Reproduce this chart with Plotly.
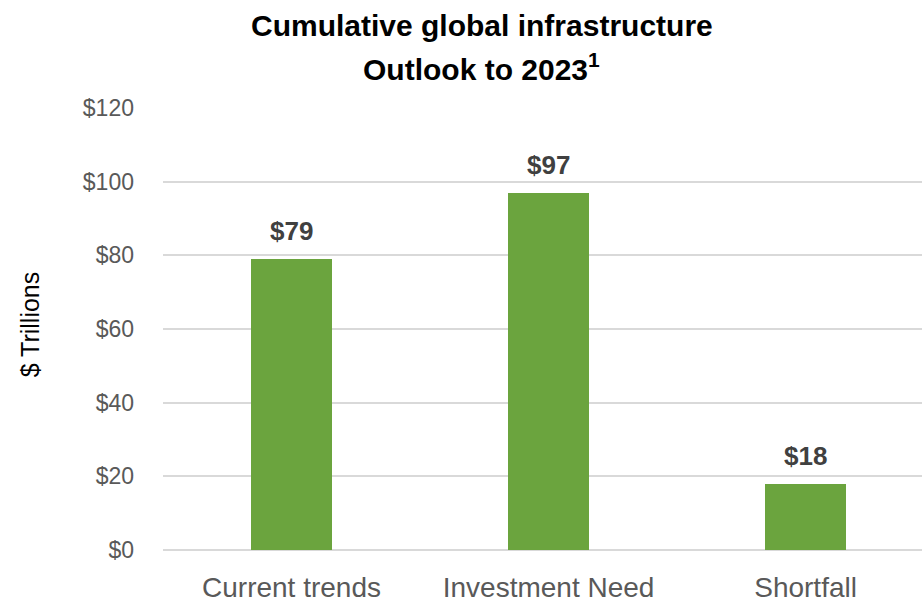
import plotly.graph_objects as go

# Cumulative global infrastructure outlook to 2023, $ trillions
categories = ["Current trends", "Investment Need", "Shortfall"]
values = [79, 97, 18]
value_labels = ["$79", "$97", "$18"]
y_ticks = [0, 20, 40, 60, 80, 100, 120]
y_tick_labels = ["$0", "$20", "$40", "$60", "$80", "$100", "$120"]
title_lines = ["Cumulative global infrastructure", "Outlook to 2023<sup>1</sup>"]
y_title = "$ Trillions"

SANS = "Liberation Sans, Arial, sans-serif"
x_pos = list(range(len(categories)))

fig = go.Figure(
    go.Bar(
        x=x_pos,
        y=values,
        width=0.315,
        marker=dict(color="#6ba43e", line=dict(width=0)),
        hoverinfo="skip",
    )
)

# value labels above each bar
for xi, v, lab in zip(x_pos, values, value_labels):
    fig.add_annotation(
        x=xi, y=v, xref="x", yref="y",
        text=lab, showarrow=False,
        xanchor="center", yanchor="bottom", yshift=11,
        font=dict(family=SANS, size=26, color="#404040", weight="bold"),
    )

# two-line chart title
for text, yp in zip(title_lines, [1.186, 1.092]):
    fig.add_annotation(
        x=0.42, y=yp, xref="paper", yref="paper",
        text=text, showarrow=False,
        xanchor="center", yanchor="middle",
        font=dict(family=SANS, size=30, color="black", weight="bold"),
    )

# vertical axis title
fig.add_annotation(
    x=-0.175, y=0.511, xref="paper", yref="paper",
    text=y_title, showarrow=False, textangle=-90,
    xanchor="center", yanchor="middle",
    font=dict(family=SANS, size=25, color="black"),
)

fig.update_layout(
    width=922,
    height=602,
    margin=dict(l=163, r=0, t=108, b=52),
    paper_bgcolor="white",
    plot_bgcolor="white",
    showlegend=False,
    xaxis=dict(
        tickmode="array",
        tickvals=x_pos,
        ticktext=categories,
        range=[-0.5, 2.453],
        showgrid=False,
        zeroline=False,
        showline=False,
        ticks="",
        automargin=False,
        ticklabelstandoff=18,
        tickfont=dict(family=SANS, size=28, color="#595959"),
    ),
    yaxis=dict(
        range=[0, 120],
        tickmode="array",
        tickvals=y_ticks,
        ticktext=y_tick_labels,
        showgrid=True,
        gridcolor="#d9d9d9",
        gridwidth=2,
        zeroline=True,
        zerolinecolor="#d9d9d9",
        zerolinewidth=2,
        showline=False,
        ticks="",
        automargin=False,
        ticklabelstandoff=28,
        tickfont=dict(family=SANS, size=23, color="#595959"),
    ),
    bargap=0,
)

fig.write_html("out.html")
